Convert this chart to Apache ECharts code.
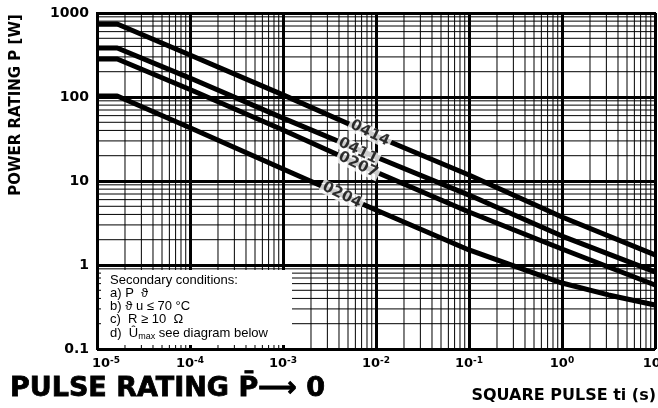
<!DOCTYPE html>
<html>
<head>
<meta charset="utf-8">
<script src="https://cdn.jsdelivr.net/npm/echarts@6/dist/echarts.min.js"></script>
<style>
  html, body { margin: 0; padding: 0; background: #fff; }
  #chart { width: 658px; height: 408px; }
</style>
</head>
<body>
<div id="chart"></div>
<script>
// curve data: [pulse time s, power W]
const p0414 = [[1e-5, 740], [1.65e-5, 740], [1e-4, 316], [1e-3, 106], [1e-2, 34.3], [1e-1, 11.8], [1, 3.73], [10, 1.32]];
const p0411 = [[1e-5, 383], [1.65e-5, 383], [1e-4, 168], [1e-3, 56], [1e-2, 19.3], [1e-1, 6.8], [1, 2.21], [10, 0.83]];
const p0207 = [[1e-5, 283], [1.65e-5, 283], [1e-4, 123], [1e-3, 40.5], [1e-2, 12.8], [1e-1, 4.28], [1, 1.55], [10, 0.578]];
const p0204 = [[1e-5, 103], [1.65e-5, 103], [1e-4, 43.1], [1e-3, 13.9], [1e-2, 4.52], [1e-1, 1.51], [1, 0.61], [3.16, 0.44], [10, 0.334]];

// curve names and where they sit on the curves
const curveLabels = [
  [6.4e-3, 22.8, "0411"],
  [8.6e-3, 37, "0414"],
  [6.4e-3, 15.5, "0207"],
  [4.3e-3, 6.8, "0204"],
];

const yTickLabels = ["0.1", "1", "10", "100", "1000"];

const notes = [
  "Secondary conditions:",
  "a) P  \u03d1",
  "b) \u03d1 u \u2264 70 \u00b0C",
  "c)  R \u2265 10  \u03a9",
  "d)  {n|\u00db}{sub|max} {n|see diagram below}",
];

// minor grid lines 2..9 in every decade
const xMinor = [];
for (let d = -5; d < 1; d++) for (let m = 2; m <= 9; m++) xMinor.push(m * Math.pow(10, d));
const yMinor = [];
for (let d = -1; d < 3; d++) for (let m = 2; m <= 9; m++) yMinor.push(m * Math.pow(10, d));

const chart = echarts.init(document.getElementById("chart"));
const bold = "DejaVu Sans";

const curve = (name, data) => ({
  name: name,
  type: "line",
  data: data,
  symbol: "none",
  z: 5,
  lineStyle: { color: "#000", width: 5 },
});

// thin grid lines drawn through the axes
const minorLines = (vals, dim) => ({
  type: "custom",
  silent: true,
  z: 1,
  data: vals,
  renderItem(params, api) {
    const v = api.value(0);
    const a = dim === "x" ? api.coord([v, 0.1]) : api.coord([1e-5, v]);
    const b = dim === "x" ? api.coord([v, 1000]) : api.coord([10, v]);
    return {
      type: "line",
      shape: { x1: a[0], y1: a[1], x2: b[0], y2: b[1] },
      style: { stroke: "#000", lineWidth: 1 },
    };
  },
});

chart.setOption({
  animation: false,
  backgroundColor: "#fff",
  grid: {
    left: 97, right: 3, top: 13, bottom: 59,
    outerBoundsMode: "none",
    containLabel: false,
    show: true, borderColor: "#000", borderWidth: 2,
  },
  xAxis: {
    type: "log",
    logBase: 10,
    min: 1e-5,
    max: 10,
    axisLine: { lineStyle: { color: "#000", width: 2 } },
    axisTick: { show: false },
    splitLine: { show: true, lineStyle: { color: "#000", width: 3 } },
    axisLabel: {
      margin: 7,
      formatter(v) {
        const e = Math.round(Math.log10(v));
        return (e === -5 ? "{p|}" : "") + "{b|10}{s|" + e + "}";
      },
      rich: {
        p: { width: 18 },
        b: { fontFamily: bold, fontWeight: "bold", fontSize: 13, color: "#000" },
        s: { fontFamily: bold, fontWeight: "bold", fontSize: 9, color: "#000", padding: [0, 0, 7, 0] },
      },
    },
  },
  yAxis: {
    type: "log",
    logBase: 10,
    min: 0.1,
    max: 1000,
    axisLine: { lineStyle: { color: "#000", width: 2 } },
    axisTick: { show: false },
    splitLine: { show: true, lineStyle: { color: "#000", width: 3 } },
    axisLabel: {
      margin: 8,
      fontFamily: bold,
      fontWeight: "bold",
      fontSize: 14,
      color: "#000",
      formatter(v) {
        return yTickLabels[Math.round(Math.log10(v)) + 1];
      },
    },
  },
  series: [
    minorLines(xMinor, "x"),
    minorLines(yMinor, "y"),
    curve("0414", p0414),
    curve("0411", p0411),
    curve("0207", p0207),
    curve("0204", p0204),
    {
      type: "scatter",
      data: curveLabels,
      symbolSize: 0,
      z: 10,
      label: {
        show: true,
        position: "inside",
        rotate: -26,
        formatter: (p) => p.value[2],
        fontFamily: bold,
        fontWeight: "bold",
        fontSize: 15,
        color: "#000",
        textBorderWidth: 0,
        textBorderColor: "transparent",
        backgroundColor: "#fff",
        padding: [0, 2, -1, 2],
      },
    },
  ],
  graphic: [
    {
      type: "rect",
      z: 50,
      shape: { x: 101, y: 270, width: 191, height: 75 },
      style: { fill: "#fff" },
    },
    ...notes.map((s, i) => ({
      type: "text",
      z: 51,
      x: 110,
      y: 280 + i * 13.3,
      style: {
        text: s,
        fill: "#000",
        font: "13px 'Liberation Sans', Arial, sans-serif",
        verticalAlign: "middle",
        rich: {
          n: { fontSize: 13, fontFamily: "Liberation Sans" },
          sub: { fontSize: 9, fontFamily: "Liberation Sans", padding: [6, 0, 0, 0] },
        },
      },
    })),
    {
      type: "text",
      x: 16,
      y: 105,
      rotation: Math.PI / 2,
      style: {
        text: "POWER RATING P [W]",
        fill: "#000",
        font: "bold 15px 'DejaVu Sans'",
        align: "center",
        verticalAlign: "middle",
      },
    },
    {
      type: "text",
      x: 10,
      y: 389,
      style: {
        text: "PULSE RATING P\u0304\u27f6 0",
        fill: "#000",
        font: "bold 27px 'DejaVu Sans'",
        verticalAlign: "middle",
        stroke: "#000",
        lineWidth: 0.8,
      },
    },
    {
      type: "text",
      x: 656,
      y: 396,
      style: {
        text: "SQUARE PULSE ti (s)",
        fill: "#000",
        font: "bold 16px 'DejaVu Sans'",
        align: "right",
        verticalAlign: "middle",
      },
    },
  ],
});

window.addEventListener("resize", () => {
  chart.resize();
});
</script>
</body>
</html>
